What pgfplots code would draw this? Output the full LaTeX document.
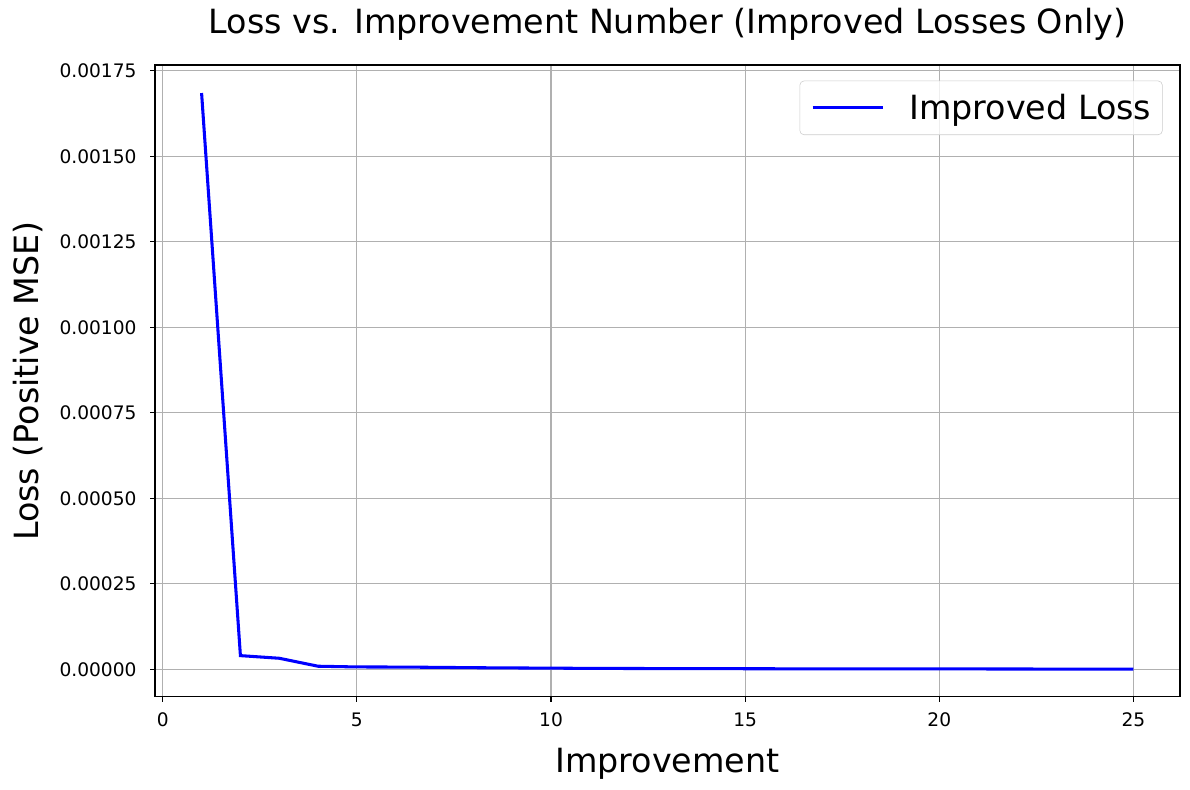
\documentclass[border=0pt]{standalone}
\usepackage{fontspec}
\setmainfont{DejaVu Sans}
\usepackage{pgfplots}
\pgfplotsset{compat=1.18}
\begin{document}
\begin{tikzpicture}
\path[use as bounding box] (-111.6pt,-67pt) rectangle (745.2pt,501.8pt);
\begin{axis}[
  at={(0,0)}, anchor=south west,
  scale only axis,
  width=738pt, height=455pt,
  xmin=-0.2, xmax=26.2,
  ymin=-0.000081, ymax=0.001767,
  xtick={0,5,10,15,20,25},
  ytick={0,0.00025,0.0005,0.00075,0.001,0.00125,0.0015,0.00175},
  scaled y ticks=false,
  scaled x ticks=false,
  yticklabel style={/pgf/number format/fixed, /pgf/number format/fixed zerofill, /pgf/number format/precision=5, /pgf/number format/assume math mode=true},
  xticklabel style={/pgf/number format/assume math mode=true},
  tick label style={font=\fontsize{13.4}{16}\selectfont},
  xticklabel style={anchor=north, inner sep=0pt, yshift=-7.9pt},
  yticklabel style={anchor=east, inner sep=0pt, xshift=-9.6pt},
  tick align=outside,
  major tick length=3.5pt,
  xtick pos=bottom, ytick pos=left,
  axis line style={line width=0.8pt},
  every tick/.style={black, line width=0.8pt},
  grid=major,
  major grid style={color=black!31, line width=0.8pt},
  title={Loss vs. Improvement Number (Improved Losses Only)},
  title style={font=\fontsize{24}{28}\selectfont, at={(axis description cs:0.5,1.036)}, anchor=base, inner sep=0pt},
  xlabel={Improvement},
  xlabel style={font=\fontsize{24}{28}\selectfont, at={(axis description cs:0.5,-0.1198)}, anchor=base, inner sep=0pt},
  ylabel={Loss (Positive MSE)},
  ylabel style={font=\fontsize{24}{28}\selectfont, at={(axis description cs:-0.1141,0.5)}, anchor=base, inner sep=0pt},
  legend style={at={(axis description cs:1,1)}, anchor=north east, xshift=-12.5pt, yshift=-11.3pt,
    draw=black!20, rounded corners=3pt, fill=white, fill opacity=0.8, text opacity=1,
    font=\fontsize{24}{28}\selectfont, inner xsep=8pt, inner ysep=9.5pt,
    nodes={inner sep=0pt}, column sep=18.2pt},
  legend cell align=left,
  legend image code/.code={\draw[#1] (0pt,0pt) -- (50.4pt,0pt);},
]
\addplot[color=blue, line width=2.2pt] coordinates {
(1,0.001685) (2,0.0000398) (3,0.0000321) (4,0.0000088) (5,0.0000067)
(6,0.0000064) (7,0.0000056) (8,0.0000045) (9,0.0000038) (10,0.0000032)
(11,0.0000025) (12,0.0000022) (13,0.0000019) (14,0.0000017) (15,0.0000015)
(16,0.0000013) (17,0.0000012) (18,0.0000011) (19,0.0000010) (20,0.0000009)
(21,0.0000008) (22,0.0000007) (23,0.0000005) (24,0.0000004) (25,0.0000003)
};
\addlegendentry{Improved Loss}
\end{axis}
\end{tikzpicture}
\end{document}
